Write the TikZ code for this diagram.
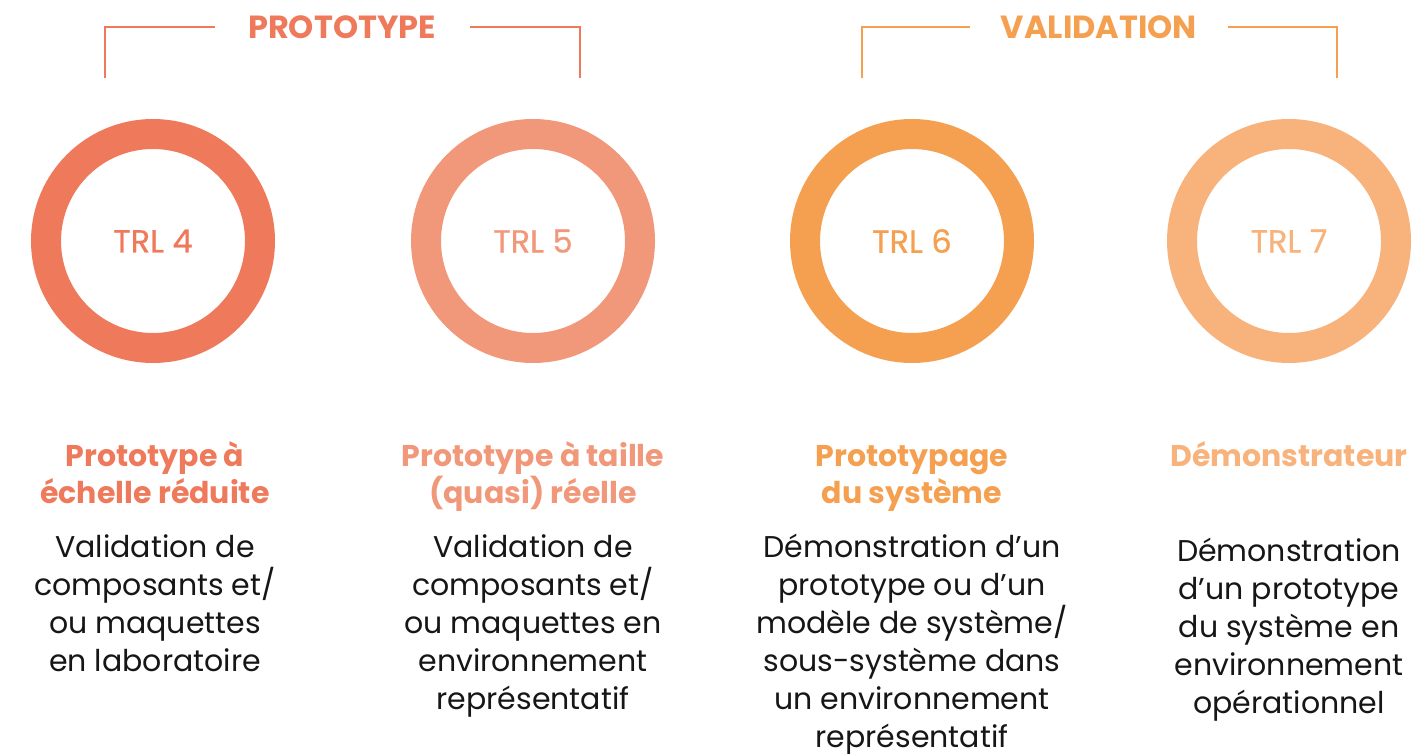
\documentclass[tikz,border=0pt]{standalone}
\usepackage{fontspec}
\setmainfont{Poppins}
\definecolor{cA}{HTML}{EF7A5B}
\definecolor{cB}{HTML}{F2987A}
\definecolor{cC}{HTML}{F5A050}
\definecolor{cD}{HTML}{F8B37C}
\definecolor{txt}{HTML}{161616}
\newcommand{\fl}{\vphantom{Éd}}
\tikzset{
  ring/.style={circle, draw=#1, line width=30pt, minimum size=214pt, inner sep=0pt, text=#1,
    font=\fontsize{32}{34}\selectfont\addfontfeature{FakeBold=0.8}},
  ttl/.style={anchor=north, align=center, text=#1, font=\fontsize{30}{37}\selectfont\bfseries, inner sep=0pt},
  body/.style={anchor=north, align=center, text=txt, font=\fontsize{30}{38}\selectfont, inner sep=0pt},
  brk/.style={draw=#1, line width=2pt},
  phase/.style={text=#1, font=\fontsize{32}{34}\selectfont\bfseries, inner sep=0pt}
}
\begin{document}
\begin{tikzpicture}[x=1pt,y=-1pt]
\useasboundingbox (0,0) rectangle (1426,754);
% brackets
\node[phase=cA] (proto) at (342,27) {PROTOTYPE};
\node[phase=cC] (valid) at (1099,27) {VALIDATION};
\draw[brk=cA] (105,78) -- (105,27) -- (215,27);
\draw[brk=cA] (470,27) -- (580,27) -- (580,78);
\draw[brk=cC] (862,78) -- (862,27) -- (970,27);
\draw[brk=cC] (1228,27) -- (1337,27) -- (1337,78);
% rings
\node[ring=cA] (t4) at (153,241) {TRL 4};
\node[ring=cB] (t5) at (533,241) {TRL 5};
\node[ring=cC] (t6) at (912,241) {TRL 6};
\node[ring=cD] (t7) at (1289,241) {TRL 7};
% titles
\node[ttl=cA] (h4) at (155,437) {\fl Prototype à\\échelle réduite};
\node[ttl=cB] (h5) at (533,437) {\fl Prototype à taille\\(quasi) réelle};
\node[ttl=cC] (h6) at (912,437) {\fl Prototypage\\du système};
\node[ttl=cD] (h7) at (1289,437) {\fl Démonstrateur};
% bodies
\node[body] (b4) at (155,529) {\fl Validation de\\composants et/\\ou maquettes\\en laboratoire};
\node[body] (b5) at (533,529) {\fl Validation de\\composants et/\\ou maquettes en\\environnement\\représentatif};
\node[body] (b6) at (912,529) {\fl Démonstration d’un\\prototype ou d’un\\modèle de système/\\sous-système dans\\un environnement\\représentatif};
\node[body] (b7) at (1289,533) {\fl Démonstration\\d’un prototype\\du système en\\environnement\\opérationnel};
\end{tikzpicture}
\end{document}
